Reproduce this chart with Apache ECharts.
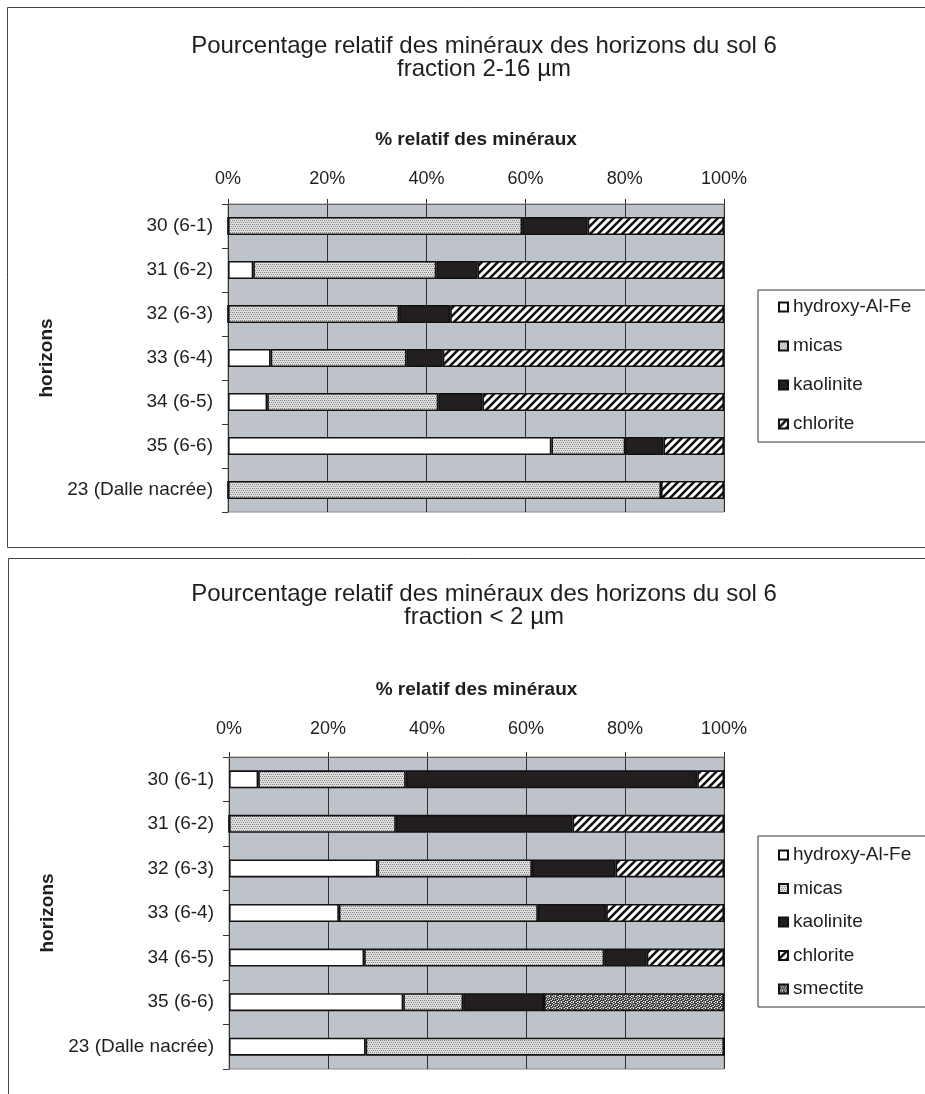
<!DOCTYPE html>
<html>
<head>
<meta charset="utf-8">
<script src="https://cdn.jsdelivr.net/npm/echarts@6/dist/echarts.min.js"></script>
<style>
  html, body { margin: 0; padding: 0; background: #ffffff; }
  #chart { width: 925px; height: 1094px; }
</style>
</head>
<body>
<div id="chart"></div>
<script>
// Soil 6 horizons, top to bottom
const horizons = ['30 (6-1)', '31 (6-2)', '32 (6-3)', '33 (6-4)', '34 (6-5)', '35 (6-6)', '23 (Dalle nacrée)'];
const minerals = ['hydroxy-Al-Fe', 'micas', 'kaolinite', 'chlorite', 'smectite'];

// Fraction 2-16 µm (relative %)
const coarseHydroxy   = [0, 5.1, 0, 8.6, 7.9, 65.2, 0];
const coarseMicas     = [59.3, 36.9, 34.5, 27.4, 34.5, 14.9, 87.3];
const coarseKaolinite = [13.2, 8.3, 10.3, 7.3, 8.9, 7.7, 0];
const coarseChlorite  = [27.5, 49.7, 55.2, 56.7, 48.7, 12.2, 12.7];

// Fraction < 2 µm (relative %)
const fineHydroxy   = [5.9, 0, 30.0, 22.2, 27.3, 35.2, 27.6];
const fineMicas     = [29.8, 33.7, 31.2, 40.2, 48.5, 12.1, 72.4];
const fineKaolinite = [58.9, 35.7, 16.9, 13.8, 8.6, 16.3, 0];
const fineChlorite  = [5.4, 30.6, 21.9, 23.8, 15.6, 0, 0];
const fineSmectite  = [0, 0, 0, 0, 0, 36.4, 0];

const FONT = 'Liberation Sans, Arial, sans-serif';
const INK = '#1e1e1e';

// Fill patterns drawn on small tiles
function tile(w, h, draw) {
  const c = document.createElement('canvas');
  c.width = w; c.height = h;
  draw(c.getContext('2d'));
  return { image: c, repeat: 'repeat' };
}
const stipple = tile(4, 4, g => {
  g.fillStyle = '#e0e0e0'; g.fillRect(0, 0, 4, 4);
  g.fillStyle = '#858585';
  [[0, 0], [2, 0], [1, 2], [3, 2]].forEach(p => g.fillRect(p[0], p[1], 1, 1));
});
const hatch = tile(8, 8, g => {
  g.fillStyle = '#ffffff'; g.fillRect(0, 0, 8, 8);
  g.strokeStyle = '#111'; g.lineWidth = 2.6; g.lineCap = 'square';
  [0, 8, 16].forEach(c => { g.beginPath(); g.moveTo(c - 9, 9); g.lineTo(c + 1, -1); g.stroke(); });
});
const speckle = tile(6, 6, g => {
  g.fillStyle = '#3c3c3c'; g.fillRect(0, 0, 6, 6);
  g.fillStyle = '#e6e6e6';
  [[0, 0], [3, 0], [1, 1], [4, 2], [0, 3], [2, 3], [5, 4], [1, 5], [3, 5]].forEach(p => g.fillRect(p[0], p[1], 1, 1));
  g.fillStyle = '#9a9a9a';
  [[5, 0], [2, 1], [0, 2], [3, 2], [4, 4], [2, 5]].forEach(p => g.fillRect(p[0], p[1], 1, 1));
});
const fills = ['#ffffff', stipple, '#231f20', hatch, speckle];

function stacked(values, gridIndex, stackName) {
  return values.map((data, i) => ({
    name: minerals[i],
    type: 'bar',
    stack: stackName,
    xAxisIndex: gridIndex,
    yAxisIndex: gridIndex,
    barWidth: 18,
    data: data,
    itemStyle: { color: fills[i], borderColor: '#111', borderWidth: 1.6 },
    emphasis: { disabled: true }
  }));
}

function valueAxis(gridIndex, nameGap, labelMargin) {
  return {
    type: 'value', gridIndex: gridIndex, position: 'top',
    min: 0, max: 100, interval: 20,
    name: '% relatif des minéraux', nameLocation: 'middle', nameGap: nameGap,
    nameTextStyle: { fontFamily: FONT, fontSize: 19, fontWeight: 'bold', color: INK },
    axisLine: { show: true, lineStyle: { color: '#666', width: 1 } },
    axisTick: { show: true, length: 5, lineStyle: { color: '#333' } },
    axisLabel: { formatter: '{value}%', margin: labelMargin, fontFamily: FONT, fontSize: 18, color: INK },
    splitLine: { show: true, lineStyle: { color: '#2e2e2e', width: 1 } }
  };
}
function categoryAxis(gridIndex) {
  return {
    type: 'category', gridIndex: gridIndex, data: horizons, inverse: true,
    name: 'horizons', nameLocation: 'middle', nameGap: 172, nameRotate: 90,
    nameTextStyle: { fontFamily: FONT, fontSize: 19, fontWeight: 'bold', color: INK },
    axisLine: { show: true, lineStyle: { color: '#333', width: 1 } },
    axisTick: { show: true, length: 6, lineStyle: { color: '#333' } },
    axisLabel: { margin: 15, fontFamily: FONT, fontSize: 19, color: INK }
  };
}
function legendBox(names, top, gap, pad) {
  return {
    data: names, orient: 'vertical', left: 758, top: top,
    itemWidth: 9, itemHeight: 9, itemGap: gap,
    padding: pad, borderColor: '#333', borderWidth: 1,
    icon: 'rect', selectedMode: false,
    textStyle: { fontFamily: FONT, fontSize: 19, color: INK, lineHeight: 21 }
  };
}

const chart = echarts.init(document.getElementById('chart'), null, { renderer: 'canvas' });
chart.setOption({
  backgroundColor: '#ffffff',
  animation: false,
  title: [
    { text: 'Pourcentage relatif des minéraux des horizons du sol 6\nfraction 2-16 µm',
      left: 479, top: 30, textAlign: 'center',
      textStyle: { fontFamily: FONT, fontSize: 24, fontWeight: 'normal', color: INK, lineHeight: 23 } },
    { text: 'Pourcentage relatif des minéraux des horizons du sol 6\nfraction < 2 µm',
      left: 479, top: 578, textAlign: 'center',
      textStyle: { fontFamily: FONT, fontSize: 24, fontWeight: 'normal', color: INK, lineHeight: 23 } }
  ],
  legend: [
    legendBox(minerals.slice(0, 4), 290, 18, [6.5, 40, 7.5, 20]),
    legendBox(minerals, 836, 12.5, [8.5, 40, 7.5, 20])
  ],
  grid: [
    { left: 228, top: 204, width: 496, height: 308, show: true, backgroundColor: '#bec2c9', borderColor: '#8a8a8a', borderWidth: 1 },
    { left: 229, top: 757, width: 495, height: 312, show: true, backgroundColor: '#bec2c9', borderColor: '#8a8a8a', borderWidth: 1 }
  ],
  xAxis: [valueAxis(0, 55, 16), valueAxis(1, 58, 19)],
  yAxis: [categoryAxis(0), categoryAxis(1)],
  graphic: [
    { type: 'rect', silent: true, z: -1, shape: { x: 7.5, y: 7.5, width: 940, height: 540 },
      style: { fill: null, stroke: '#444', lineWidth: 1 } },
    { type: 'rect', silent: true, z: -1, shape: { x: 8.5, y: 558.5, width: 940, height: 560 },
      style: { fill: null, stroke: '#444', lineWidth: 1 } }
  ],
  series: [
    ...stacked([coarseHydroxy, coarseMicas, coarseKaolinite, coarseChlorite], 0, 'coarse'),
    ...stacked([fineHydroxy, fineMicas, fineKaolinite, fineChlorite, fineSmectite], 1, 'fine')
  ]
});
</script>
</body>
</html>
